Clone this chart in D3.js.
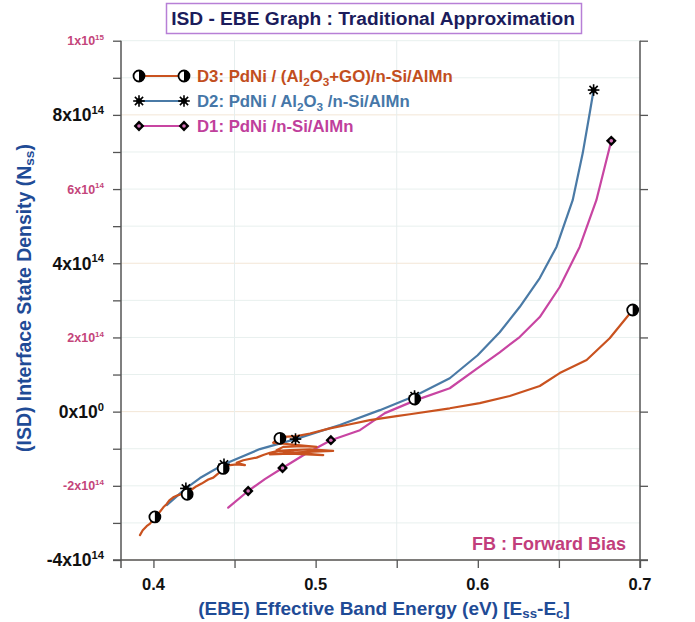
<!DOCTYPE html>
<html>
<head>
<meta charset="utf-8">
<script src="https://cdn.jsdelivr.net/npm/d3@7"></script>
<style>
  body { margin: 0; background: #fff; }
  text { font-family: "Liberation Sans", Arial, sans-serif; font-weight: bold; }
</style>
</head>
<body>
<svg id="chart" width="695" height="622"></svg>
<script>
// Energy (eV) and interface state density (in units of 1e14 cm^-2 eV^-1)
const d3Energy = [0.3917,0.3934,0.3958,0.3979,0.4009,0.4040,0.4061,0.4082,0.4098,0.4122,0.4153,0.4184,0.4209,0.4236,0.4266,0.4297,0.4338,0.4369,0.4393,0.4420,0.4441,0.4472,0.4513,0.4564,0.4513,0.4554,0.4636,0.4677,0.4718,0.4769,0.4841,0.4965,0.5108,0.4985,0.4821,0.4718,0.4841,0.5047,0.4883,0.4759,0.4800,0.4923,0.5006,0.4841,0.4738,0.4759,0.4800,0.4883,0.4965,0.5088,0.5191,0.5334,0.5499,0.5581,0.5827,0.6012,0.6197,0.6382,0.6505,0.6671,0.6813,0.6955];
const d3Nss    = [-3.33,-3.20,-3.09,-3.02,-2.85,-2.70,-2.58,-2.49,-2.39,-2.31,-2.25,-2.21,-2.16,-2.10,-2.01,-1.94,-1.83,-1.78,-1.69,-1.60,-1.49,-1.44,-1.42,-1.44,-1.38,-1.31,-1.24,-1.17,-1.11,-1.06,-1.04,-1.02,-1.06,-1.08,-1.11,-1.15,-1.13,-1.17,-1.11,-1.04,-0.95,-0.93,-0.95,-0.88,-0.84,-0.75,-0.68,-0.66,-0.59,-0.45,-0.36,-0.23,-0.12,-0.07,0.09,0.23,0.42,0.69,1.04,1.39,1.98,2.74];

const d2Energy = [0.4082,0.4200,0.4287,0.4435,0.4656,0.4876,0.5149,0.5396,0.5611,0.5827,0.5999,0.6135,0.6258,0.6382,0.6485,0.6585,0.6647,0.6690,0.6714];
const d2Nss    = [-2.52,-2.07,-1.79,-1.42,-1.01,-0.74,-0.36,0.04,0.42,0.90,1.52,2.14,2.82,3.60,4.44,5.70,6.97,8.05,8.67];

const d1Energy = [0.4461,0.4584,0.4687,0.4796,0.4934,0.5094,0.5273,0.5427,0.5618,0.5827,0.5999,0.6135,0.6258,0.6382,0.6505,0.6628,0.6731,0.6782,0.6823];
const d1Nss    = [-2.59,-2.14,-1.82,-1.52,-1.15,-0.77,-0.50,-0.04,0.31,0.63,1.17,1.60,2.01,2.55,3.36,4.44,5.70,6.59,7.30];

// Marker points for each device
const d3MarkE = [0.4009,0.4208,0.4430,0.4780,0.5610,0.6955];
const d3MarkN = [-2.84,-2.23,-1.53,-0.72,0.34,2.74];
const d2MarkE = [0.4200,0.4435,0.4876,0.5610,0.6714];
const d2MarkN = [-2.07,-1.42,-0.74,0.42,8.67];
const d1MarkE = [0.4584,0.4796,0.5094,0.5618,0.6823];
const d1MarkN = [-2.14,-1.52,-0.77,0.31,7.30];

const xTickValues = [0.4,0.45,0.5,0.55,0.6,0.65,0.7];
const xTickLabels = ["0.4","0.5","0.6","0.7"];
const yTickValues = [-4,-3,-2,-1,0,1,2,3,4,5,6,7,8,9,10];
const yLabelValues = [10,8,6,4,2,0,-2,-4];
const yLabelMant   = ["1","8","6","4","2","0","-2","-4"];
const yLabelExp    = ["15","14","14","14","14","0","14","14"];

const colors = { D3: "#c9521f", D2: "#4a7aa6", D1: "#c845a2" };
const textColors = { D3: "#c24e1e", D2: "#4677a8", D1: "#c03f9c" };

const svg = d3.select("#chart");
const m = { left: 121, right: 640, top: 40.7, bottom: 560 };

const x = d3.scaleLinear().domain([0.38, 0.7]).range([m.left, m.right]);
const y = d3.scaleLinear().domain([-4, 10]).range([m.bottom, m.top]);

// scale a text element's font so its advance width equals the given span
function fitWidth(sel, target) {
  const node = sel.node();
  const fs = parseFloat(sel.attr("font-size"));
  const w = node.getComputedTextLength();
  const nfs = fs * target / w;
  sel.attr("font-size", nfs);
  return nfs;
}

// grid
const grid = svg.append("g");
grid.selectAll("line.h").data(yTickValues).join("line")
  .attr("x1", m.left).attr("x2", m.right)
  .attr("y1", d => y(d)).attr("y2", d => y(d))
  .attr("stroke", d => (d % 4 === 0) ? "#f3e6d6" : "#e8f0ee").attr("stroke-width", 1);
grid.selectAll("line.v").data([0.45,0.55,0.65]).join("line")
  .attr("x1", d => x(d)).attr("x2", d => x(d))
  .attr("y1", m.top).attr("y2", m.bottom)
  .attr("stroke", "#e6eeee").attr("stroke-width", 1);

// axes
const axisColor = "#555";
const xAxis = svg.append("g").attr("transform", `translate(0,${m.bottom})`)
  .call(d3.axisBottom(x).tickValues(xTickValues).tickSize(8).tickFormat(""));
xAxis.select(".domain").remove();
svg.append("line").attr("x1", m.left - 8).attr("x2", m.right + 8)
  .attr("y1", m.bottom).attr("y2", m.bottom).attr("stroke", axisColor).attr("stroke-width", 1.5);

const yAxis = svg.append("g").attr("transform", `translate(${m.left},0)`)
  .call(d3.axisLeft(y).tickValues(yTickValues).tickSize(8).tickFormat(""));
yAxis.select(".domain").remove();
svg.append("line").attr("x1", m.left).attr("x2", m.left)
  .attr("y1", m.top).attr("y2", m.bottom + 8).attr("stroke", axisColor).attr("stroke-width", 1.5);

const yAxisR = svg.append("g").attr("transform", `translate(${m.right},0)`)
  .call(d3.axisRight(y).tickValues([-4,-2,0,2,4,6,8,10]).tickSize(8).tickFormat(""));
yAxisR.select(".domain").remove();
svg.append("line").attr("x1", m.right).attr("x2", m.right)
  .attr("y1", m.top).attr("y2", m.bottom + 8).attr("stroke", axisColor).attr("stroke-width", 1.5);

svg.selectAll(".tick line").attr("stroke", axisColor).attr("stroke-width", 1.3);

// x tick labels
svg.append("g").selectAll("text").data(xTickLabels).join("text")
  .attr("x", d => x(+d)).attr("y", 590)
  .attr("text-anchor", "middle").attr("font-size", 16.5).attr("fill", "#111")
  .text(d => d);

// y tick labels with exponents
yLabelValues.forEach((v, i) => {
  const big = (i % 2 === 1);
  const fs = big ? 17.5 : 12.5;
  const t = svg.append("text")
    .attr("x", 104).attr("y", y(v) + fs * 0.36)
    .attr("text-anchor", "end")
    .attr("fill", big ? "#111" : "#c4457a")
    .attr("font-size", fs);
  t.append("tspan").text(yLabelMant[i] + "x10");
  t.append("tspan").attr("font-size", "0.64em").attr("dy", "-0.65em").text(yLabelExp[i]);
});

// series lines
const line = d3.line().x(d => x(d[0])).y(d => y(d[1])).curve(d3.curveLinear);
const seriesData = {
  D3: d3Energy.map((e, i) => [e, d3Nss[i]]),
  D2: d2Energy.map((e, i) => [e, d2Nss[i]]),
  D1: d1Energy.map((e, i) => [e, d1Nss[i]])
};
const markData = {
  D3: d3MarkE.map((e, i) => [e, d3MarkN[i]]),
  D2: d2MarkE.map((e, i) => [e, d2MarkN[i]]),
  D1: d1MarkE.map((e, i) => [e, d1MarkN[i]])
};

["D1","D2","D3"].forEach(k => {
  svg.append("path").datum(seriesData[k])
    .attr("d", line).attr("fill", "none")
    .attr("stroke", colors[k]).attr("stroke-width", 2.2)
    .attr("stroke-linejoin", "round").attr("stroke-linecap", "round");
});

// marker drawing
function drawMarker(g, kind) {
  if (kind === "D3") {
    const r = 5.5;
    g.append("circle").attr("r", r).attr("fill", "#fff").attr("stroke", "#000").attr("stroke-width", 1.8);
    g.append("path").attr("d", `M0,${-r} A${r},${r} 0 0 1 0,${r} Z`).attr("fill", "#000");
  } else if (kind === "D2") {
    const r = 5.8;
    [0, 45, 90, 135].forEach(a => {
      const rad = a * Math.PI / 180;
      g.append("line")
        .attr("x1", -r * Math.cos(rad)).attr("y1", -r * Math.sin(rad))
        .attr("x2", r * Math.cos(rad)).attr("y2", r * Math.sin(rad))
        .attr("stroke", "#000").attr("stroke-width", 1.6);
    });
    g.append("circle").attr("r", 2.8).attr("fill", "#000");
  } else {
    const r = 5.4;
    g.append("path").attr("d", `M0,${-r} L${r},0 L0,${r} L${-r},0 Z`).attr("fill", "#000");
    g.append("circle").attr("r", 1.8).attr("fill", "#d673b8");
  }
}

["D1","D2","D3"].forEach(k => {
  markData[k].forEach(p => {
    const g = svg.append("g").attr("transform", `translate(${x(p[0])},${y(p[1])})`);
    drawMarker(g, k);
  });
});

// legend
const legendRows = [
  { k: "D3", y: 76, parts: [["D3: PdNi / (Al"],["2","sub"],["O"],["3","sub"],["+GO)/n-Si/AlMn"]] },
  { k: "D2", y: 101, parts: [["D2: PdNi / Al"],["2","sub"],["O"],["3","sub"],[" /n-Si/AlMn"]] },
  { k: "D1", y: 126, parts: [["D1: PdNi /n-Si/AlMn"]] }
];
const legendTexts = legendRows.map(r => {
  svg.append("line").attr("x1", 139).attr("x2", 184).attr("y1", r.y).attr("y2", r.y)
    .attr("stroke", colors[r.k]).attr("stroke-width", 2.2);
  [139, 184].forEach(px => drawMarker(svg.append("g").attr("transform", `translate(${px},${r.y})`), r.k));
  const t = svg.append("text").attr("x", 197).attr("y", r.y + 5.5)
    .attr("font-size", 15).attr("fill", textColors[r.k]);
  let shifted = false;
  r.parts.forEach(p => {
    const ts = t.append("tspan").text(p[0]);
    if (p[1] === "sub") { ts.attr("font-size", "0.7em").attr("dy", shifted ? null : "0.35em"); shifted = true; }
    else if (shifted) { ts.attr("dy", "-0.245em"); shifted = false; }
  });
  return t;
});
const legendFs = fitWidth(legendTexts[1], 213);
legendTexts.forEach(t => t.attr("font-size", legendFs));

// title
svg.append("rect").attr("x", 166.5).attr("y", 3.5).attr("width", 415).attr("height", 30)
  .attr("fill", "#fff").attr("stroke", "#b77fd6").attr("stroke-width", 1.5);
const title = svg.append("text").attr("x", 373).attr("y", 25).attr("text-anchor", "middle")
  .attr("font-size", 17).attr("fill", "#1c1c5c")
  .text("ISD - EBE Graph : Traditional Approximation");
fitWidth(title, 404);

// annotation
const fb = svg.append("text").attr("x", 626).attr("y", 550).attr("text-anchor", "end")
  .attr("font-size", 16).attr("fill", "#c23e7c").text("FB : Forward Bias");
fitWidth(fb, 154);

// axis titles
const axisTitleColor = "#1f4b96";
const xt = svg.append("text").attr("x", 384).attr("y", 615).attr("text-anchor", "middle")
  .attr("font-size", 16).attr("fill", axisTitleColor);
xt.append("tspan").text("(EBE) Effective Band Energy (eV) [E");
xt.append("tspan").attr("font-size", "0.7em").attr("dy", "0.25em").text("ss");
xt.append("tspan").attr("dy", "-0.175em").text("-E");
xt.append("tspan").attr("font-size", "0.7em").attr("dy", "0.25em").text("c");
xt.append("tspan").attr("dy", "-0.175em").text("]");
fitWidth(xt, 372);

const yt = svg.append("text").attr("transform", "translate(31,298) rotate(-90)")
  .attr("text-anchor", "middle").attr("font-size", 16).attr("fill", axisTitleColor);
yt.append("tspan").text("(ISD) Interface State Density (N");
yt.append("tspan").attr("font-size", "0.7em").attr("dy", "0.25em").text("ss");
yt.append("tspan").attr("dy", "-0.175em").text(")");
fitWidth(yt, 308);
</script>
</body>
</html>
